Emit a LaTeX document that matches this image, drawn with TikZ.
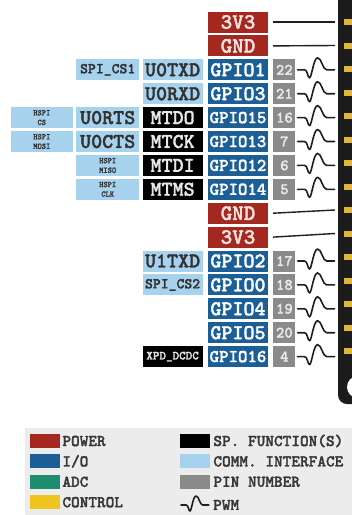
\documentclass[tikz,border=0pt]{standalone}
\usepackage{fontspec}
\usepackage{xcolor}
\usepackage{tikz}
\usetikzlibrary{positioning}

\newfontfamily\pinfam{lmmonolt10-bold.otf}[FakeBold=1.6]
\newfontfamily\spifam{lmmonolt10-bold.otf}[FakeBold=1.2, FakeStretch=0.95]

\definecolor{pwrred}{RGB}{164,40,32}
\definecolor{pwrtext}{RGB}{246,226,222}
\definecolor{iob}{RGB}{28,94,150}
\definecolor{comblue}{RGB}{166,210,238}
\definecolor{comtext}{RGB}{50,50,50}
\definecolor{fntext}{RGB}{232,232,232}
\definecolor{pingray}{RGB}{138,138,138}
\definecolor{pintext}{RGB}{232,232,232}
\definecolor{adcgreen}{RGB}{30,140,110}
\definecolor{ctlyellow}{RGB}{240,196,30}
\definecolor{boardc}{RGB}{28,28,28}
\definecolor{pinyel}{RGB}{222,182,60}
\definecolor{wirec}{RGB}{30,30,30}
\definecolor{legbg}{RGB}{236,236,236}
\definecolor{legtext}{RGB}{55,55,55}

\newcommand{\pinfont}[1]{\fontsize{#1}{#1}\selectfont\pinfam}

\tikzset{
  pwm/.pic={
    \draw[line width=1.6pt, line join=round, line cap=round, draw=wirec]
      (0,0) -- (7,0) .. controls (10,0) and (10,8) .. (12,8)
      .. controls (14,8) and (16,-12) .. (20,-12)
      .. controls (24,-12) and (25,0) .. (29,0) -- (37,0);
  }
}

\begin{document}
\begin{tikzpicture}[x=1pt, y=-1pt, node distance=2.5pt, every node/.style={inner sep=0pt}]
  \tikzstyle{box}=[rectangle, minimum height=21pt]
  \tikzstyle{pwr}=[box, fill=pwrred, text=pwrtext, minimum width=60pt, font=\pinfont{22}]
  \tikzstyle{io}=[box, fill=iob, text=white, minimum width=60pt, font=\pinfont{21}]
  \tikzstyle{iosix}=[io, font=\pinfont{18}]
  \tikzstyle{fn}=[box, fill=black, text=fntext, minimum width=60pt, font=\pinfont{21}]
  \tikzstyle{com}=[box, fill=comblue, text=comtext, minimum width=60pt, font=\pinfont{21}]
  \tikzstyle{comb}=[com, minimum width=63pt]
  \tikzstyle{spi}=[com, minimum width=63pt, align=center, font={\fontsize{8.5}{9.6}\selectfont\spifam}]
  \tikzstyle{pin}=[box, fill=pingray, text=pintext, minimum width=22pt, font=\pinfont{16}]
  \tikzstyle{wire}=[line width=1.4pt, draw=wirec]
  \tikzstyle{sw}=[rectangle, minimum width=30pt, minimum height=14pt]
  \tikzstyle{lab}=[font=\pinfont{16.5}, text=legtext]

  \useasboundingbox (0,0) rectangle (352,515);
  \clip (0,0) rectangle (352,515);

  % board edge with header pins
  \fill[boardc, rounded corners=9pt] (338,-20) rectangle (390,404);
  \foreach \y in {22,45.5,69,92.5,116,139.5,163,186.5,210,233.5,257,280.5,304,327.5,351}
    \fill[pinyel] (344,\y-3) rectangle (360,\y+3);
  \fill[white] (358,387) circle (11pt);
  \coordinate (b0) at (335,22);
  \coordinate (b1) at (335,45.5);
  \coordinate (b8) at (335,210);
  \coordinate (b9) at (335,233.5);

  % gpio column
  \node[pwr] (v1) at (238,22) {3V3};
  \node[pwr, below=of v1] (gnd1) {GND};
  \node[io, below=of gnd1] (g1) {GPIO1};
  \node[io, below=of g1] (g3) {GPIO3};
  \node[iosix, below=of g3] (g15) {GPIO15};
  \node[iosix, below=of g15] (g13) {GPIO13};
  \node[iosix, below=of g13] (g12) {GPIO12};
  \node[iosix, below=of g12] (g14) {GPIO14};
  \node[pwr, below=of g14] (gnd2) {GND};
  \node[pwr, below=of gnd2] (v2) {3V3};
  \node[io, below=of v2] (g2) {GPIO2};
  \node[io, below=of g2] (g0) {GPIO0};
  \node[io, below=of g0] (g4) {GPIO4};
  \node[io, below=of g4] (g5) {GPIO5};
  \node[iosix, below=of g5] (g16) {GPIO16};

  % pin numbers
  \node[pin, right=5pt of g1] (p22) {22};
  \node[pin, right=5pt of g3] (p21) {21};
  \node[pin, right=5pt of g15] (p16) {16};
  \node[pin, right=5pt of g13] (p7) {7};
  \node[pin, right=5pt of g12] (p6) {6};
  \node[pin, right=5pt of g14] (p5) {5};
  \node[pin, right=5pt of g2] (p17) {17};
  \node[pin, right=5pt of g0] (p18) {18};
  \node[pin, right=5pt of g4] (p19) {19};
  \node[pin, right=5pt of g5] (p20) {20};
  \node[pin, right=5pt of g16] (p4) {4};

  % second functions
  \node[com, left=5pt of g1] (u0txd) {U0TXD};
  \node[com, left=5pt of g3] (u0rxd) {U0RXD};
  \node[fn, left=5pt of g15] (mtdo) {MTDO};
  \node[fn, left=5pt of g13] (mtck) {MTCK};
  \node[fn, left=5pt of g12] (mtdi) {MTDI};
  \node[fn, left=5pt of g14] (mtms) {MTMS};
  \node[com, left=5pt of g2] (u1txd) {U1TXD};
  \node[com, font=\pinfont{15}, left=5pt of g0] (cs2) {SPI\_CS2};
  \node[fn, font=\pinfont{12.5}, left=5pt of g16] (xpd) {XPD\_DCDC};

  \node[comb, font=\pinfont{15}, left=3pt of u0txd] (cs1) {SPI\_CS1};
  \node[comb, left=3pt of mtdo] (u0rts) {U0RTS};
  \node[comb, left=3pt of mtck] (u0cts) {U0CTS};
  \node[spi, left=3pt of mtdi] (miso) {HSPI\\MISO};
  \node[spi, left=3pt of mtms] (clk) {HSPI\\CLK};
  \node[spi, minimum width=62pt, left=3pt of u0rts] (hcs) {HSPI\\CS};
  \node[spi, minimum width=62pt, left=3pt of u0cts] (mosi) {HSPI\\MOSI};

  % power wires
  \draw[wire] ([xshift=5pt]v1.east) -- (b0);
  \draw[wire] ([xshift=5pt]gnd1.east) -- (b1);
  \draw[wire] ([xshift=5pt]gnd2.east) -- (b8);
  \draw[wire] ([xshift=5pt]v2.east) -- (b9);

  % pwm marks
  \pic at ([xshift=2pt]p22.east) {pwm};
  \pic at ([xshift=2pt]p21.east) {pwm};
  \pic at ([xshift=2pt]p16.east) {pwm};
  \pic at ([xshift=2pt]p7.east) {pwm};
  \pic at ([xshift=2pt]p6.east) {pwm};
  \pic at ([xshift=2pt]p5.east) {pwm};
  \pic at ([xshift=2pt]p17.east) {pwm};
  \pic at ([xshift=2pt]p18.east) {pwm};
  \pic at ([xshift=2pt]p19.east) {pwm};
  \pic at ([xshift=2pt]p20.east) {pwm};
  \pic at ([xshift=2pt]p4.east) {pwm};

  % legend
  \fill[legbg] (25,428) rectangle (360,520);
  \node[sw, fill=pwrred] (kpwr) at (45,441) {};
  \node[sw, fill=iob, below=6pt of kpwr] (kio) {};
  \node[sw, fill=adcgreen, below=6pt of kio] (kadc) {};
  \node[sw, fill=ctlyellow, below=6pt of kadc] (kctl) {};
  \node[sw, fill=boardc, below=6pt of kctl] (kgnd) {};
  \node[lab, right=2pt of kpwr] (tpwr) {POWER};
  \node[lab, right=2pt of kio] (tio) {I/O};
  \node[lab, right=2pt of kadc] (tadc) {ADC};
  \node[lab, right=2pt of kctl] (tctl) {CONTROL};

  \node[sw, fill=black] (kfn) at (195,441) {};
  \node[sw, fill=comblue, below=6pt of kfn] (kcom) {};
  \node[sw, fill=pingray, below=6pt of kcom] (kpin) {};
  \coordinate (kpwm) at (181,505);
  \pic[scale=0.75] at (kpwm) {pwm};
  \node[lab, right=3pt of kfn] (tfn) {SP. FUNCTION(S)};
  \node[lab, right=3pt of kcom] (tcom) {COMM. INTERFACE};
  \node[lab, right=3pt of kpin] (tpin) {PIN NUMBER};
  \node[lab, anchor=west] (tpwm) at (213,505) {PWM};
\end{tikzpicture}
\end{document}
